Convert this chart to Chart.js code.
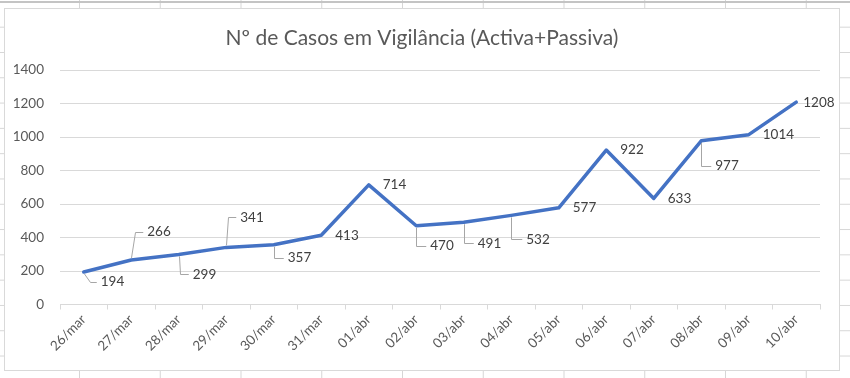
<!DOCTYPE html>
<html>
<head>
<meta charset="utf-8">
<script src="https://cdn.jsdelivr.net/npm/chart.js@4.4.1/dist/chart.umd.min.js"></script>
<style>
  html, body { margin: 0; padding: 0; }
  body {
    width: 850px; height: 378px; overflow: hidden; position: relative;
    background-color: #fff;
    background-image:
      linear-gradient(to right, #d6d6d6 1px, transparent 1px),
      linear-gradient(to bottom, #d6d6d6 1px, transparent 1px);
    background-size: 80.75px 378px, 850px 25.3px;
    background-position: 79px 0, 0 1.4px;
  }
  #topline { position: absolute; left: 0; top: 1px; width: 850px; height: 2px; background: #c4c4c4; }
  #box {
    position: absolute; left: 4px; top: 8px; width: 836px; height: 363px;
    box-sizing: border-box; border: 1px solid #d9d9d9; background: #fff;
  }
  canvas { display: block; }
</style>
</head>
<body>
<div id="topline"></div>
<div id="box"><canvas id="grafico" width="834" height="361"></canvas></div>
<script>
const titulo = "Nº de Casos em Vigilância (Activa+Passiva)";
const datas = ["26/mar", "27/mar", "28/mar", "29/mar", "30/mar", "31/mar", "01/abr", "02/abr",
  "03/abr", "04/abr", "05/abr", "06/abr", "07/abr", "08/abr", "09/abr", "10/abr"];
const casos = [194, 266, 299, 341, 357, 413, 714, 470, 491, 532, 577, 922, 633, 977, 1014, 1208];
const yMin = 0;
const yMax = 1400;
const yStep = 200;

// where each value label sits relative to its point: [dx to text, dy, leader bend]
const labelPlacement = [
  [17, 10, 6], [16, -28, 4], [14, 20, 1], [14, -30, 2], [14, 13, 0], [14, 0, 0],
  [14, 0, 0], [14, 20, 0], [14, 21, 0], [15, 24, 0], [14, 0, 0], [14, 0, 0],
  [14, 0, 0], [14, 25, 0], [14, 0, 0], [7, 0, 0]
];

const fonte = "Lato, 'Liberation Sans', sans-serif";
const cinza = "#595959";
const linhaGrelha = "#d9d9d9";

const tituloPlugin = {
  id: "tituloPlugin",
  afterDraw(chart) {
    const ctx = chart.ctx;
    ctx.save();
    ctx.font = "21px " + fonte;
    ctx.fillStyle = cinza;
    ctx.textAlign = "center";
    ctx.textBaseline = "middle";
    ctx.fillText(titulo, chart.width / 2, 29);
    ctx.restore();
  }
};

const rotulos = {
  id: "rotulos",
  afterDatasetsDraw(chart) {
    const ctx = chart.ctx;
    const meta = chart.getDatasetMeta(0);
    ctx.save();
    ctx.font = "13.5px " + fonte;
    ctx.textAlign = "left";
    ctx.textBaseline = "middle";
    meta.data.forEach((pt, i) => {
      const p = labelPlacement[i];
      const x = pt.x, y = pt.y;
      const cy = y + p[1];
      if (Math.abs(p[1]) > 8) {
        ctx.strokeStyle = "#a6a6a6";
        ctx.lineWidth = 1;
        ctx.beginPath();
        ctx.moveTo(Math.round(x) + 0.5, y + (p[1] > 0 ? 2 : -2));
        ctx.lineTo(Math.round(x + p[2]) + 0.5, Math.round(cy) + 0.5);
        ctx.lineTo(x + p[0] - 4, Math.round(cy) + 0.5);
        ctx.stroke();
      }
      ctx.fillStyle = "#404040";
      ctx.fillText(String(casos[i]), x + p[0], cy);
    });
    ctx.restore();
  }
};

new Chart(document.getElementById("grafico"), {
  type: "line",
  data: {
    labels: datas,
    datasets: [{
      data: casos,
      borderColor: "#4472C4",
      borderWidth: 3.5,
      borderCapStyle: "round",
      borderJoinStyle: "round",
      pointRadius: 0,
      tension: 0,
      fill: false
    }]
  },
  options: {
    responsive: false,
    animation: false,
    layout: { padding: { top: 61, right: 19, left: 0, bottom: 0 } },
    plugins: {
      legend: { display: false },
      tooltip: { enabled: false },
      title: { display: false }
    },
    scales: {
      x: {
        offset: true,
        afterFit(scale) { scale.height = 65.5; },
        grid: {
          offset: true,
          drawOnChartArea: false,
          drawTicks: true,
          tickLength: 5,
          color: linhaGrelha
        },
        border: { display: true, color: linhaGrelha, width: 1 },
        ticks: {
          autoSkip: false,
          minRotation: 45,
          maxRotation: 45,
          padding: 2,
          color: cinza,
          font: { family: fonte, size: 13.5 }
        }
      },
      y: {
        min: yMin,
        max: yMax,
        afterFit(scale) { scale.width = 55; },
        grid: { color: linhaGrelha, drawTicks: false },
        border: { display: false },
        ticks: {
          stepSize: yStep,
          padding: 16,
          color: cinza,
          font: { family: fonte, size: 13.5 },
          callback: (v) => String(v)
        }
      }
    }
  },
  plugins: [tituloPlugin, rotulos]
});
</script>
</body>
</html>
